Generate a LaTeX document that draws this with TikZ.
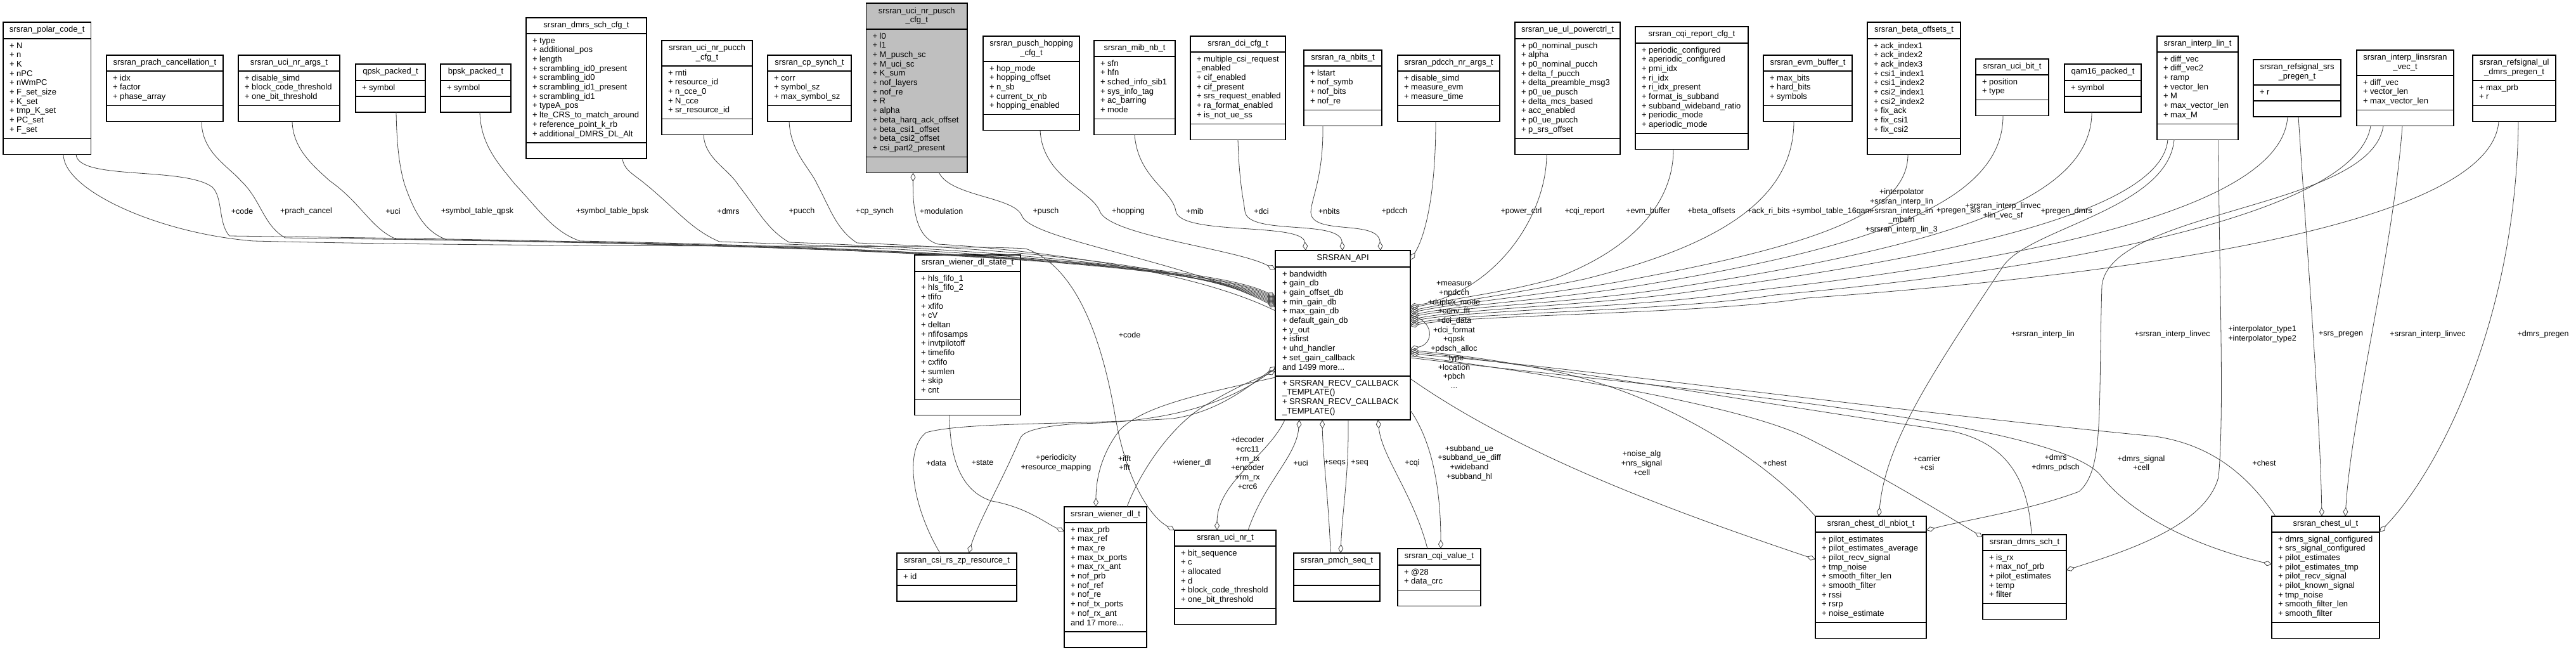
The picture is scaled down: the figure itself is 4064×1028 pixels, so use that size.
\documentclass[tikz,border=0pt]{standalone}
\usepackage{fontspec}
\setmainfont{Liberation Sans}
\usetikzlibrary{arrows.meta,calc}
\definecolor{edgec}{HTML}{404040}
\definecolor{boxc}{HTML}{000000}
\definecolor{grayfill}{HTML}{BFBFBF}
\tikzset{
 umlrect/.style={draw=boxc, line width=1.2pt, fill=white, inner sep=0pt, outer sep=0pt},
 sepline/.style={draw=boxc, line width=1.2pt},
 txt/.style={font=\fontsize{13}{14.7}\selectfont, inner sep=0pt, outer sep=0pt},
 lbl/.style={font=\fontsize{12.5}{14.7}\selectfont, inner sep=0pt, align=center},
 rel/.style={draw=edgec, line width=0.8pt},
 agg/.style={rel, -{Diamond[open, length=14pt, width=8pt]}},
}
% #1 extra style, #2 name, #3 left, #4 top, #5 width, #6 title, #7 title height, #8 items, #9 item lines
\newcommand\umlbox[9][]{%
 \pgfmathsetmacro\ih{#9>0 ? 14.7*#9+10.3 : 25}%
 \pgfmathsetmacro\bh{#7+\ih+25}%
 \node[umlrect,#1, minimum width=#5pt, minimum height=\bh pt, anchor=north west] (#2) at (#3,#4) {};
 \draw[sepline] ([yshift=-#7pt]#2.north west) -- ([yshift=-#7pt]#2.north east);
 \draw[sepline] ([yshift=-#7pt-\ih pt]#2.north west) -- ([yshift=-#7pt-\ih pt]#2.north east);
 \node[txt, anchor=center] (#2-t) at ([yshift=-#7pt/2]#2.north) {\begin{tabular}{@{}c@{}}#6\end{tabular}};
 \ifnum#9>0 \node[txt, anchor=base west] (#2-a) at ([xshift=10pt,yshift=-#7pt-15pt]#2.north west) {\begin{tabular}[t]{@{}l@{}}#8\end{tabular}};\fi
}
\begin{document}
\begin{tikzpicture}[x=1pt,y=-1pt]
\useasboundingbox[fill=white] (0,0) rectangle (4064,1028);
% ---------- top row ----------
\umlbox{polar}{5}{35}{138.5}{srsran\_polar\_code\_t}{26}{+ N\\+ n\\+ K\\+ nPC\\+ nWmPC\\+ F\_set\_size\\+ K\_set\\+ tmp\_K\_set\\+ PC\_set\\+ F\_set}{10}
\umlbox{prach}{168}{87}{184}{srsran\_prach\_cancellation\_t}{25}{+ idx\\+ factor\\+ phase\_array}{3}
\umlbox{uciargs}{376}{87}{160}{srsran\_uci\_nr\_args\_t}{25}{+ disable\_simd\\+ block\_code\_threshold\\+ one\_bit\_threshold}{3}
\umlbox{qpsk}{561}{101}{110}{qpsk\_packed\_t}{26}{+ symbol}{1}
\umlbox{bpsk}{695}{101}{111}{bpsk\_packed\_t}{26}{+ symbol}{1}
\umlbox{dmrscfg}{830}{28}{190}{srsran\_dmrs\_sch\_cfg\_t}{25}{+ type\\+ additional\_pos\\+ length\\+ scrambling\_id0\_present\\+ scrambling\_id0\\+ scrambling\_id1\_present\\+ scrambling\_id1\\+ typeA\_pos\\+ lte\_CRS\_to\_match\_around\\+ reference\_point\_k\_rb\\+ additional\_DMRS\_DL\_Alt}{11}
\umlbox{pucchcfg}{1044}{64}{143}{srsran\_uci\_nr\_pucch\\\_cfg\_t}{40}{+ rnti\\+ resource\_id\\+ n\_cce\_0\\+ N\_cce\\+ sr\_resource\_id}{5}
\umlbox{cpsynch}{1211}{87}{132}{srsran\_cp\_synch\_t}{25}{+ corr\\+ symbol\_sz\\+ max\_symbol\_sz}{3}
\umlbox[fill=grayfill]{gray}{1366.5}{5}{159.5}{srsran\_uci\_nr\_pusch\\\_cfg\_t}{41}{+ l0\\+ l1\\+ M\_pusch\_sc\\+ M\_uci\_sc\\+ K\_sum\\+ nof\_layers\\+ nof\_re\\+ R\\+ alpha\\+ beta\_harq\_ack\_offset\\+ beta\_csi1\_offset\\+ beta\_csi2\_offset\\+ csi\_part2\_present}{13}
\umlbox{hopping}{1551}{57}{152}{srsran\_pusch\_hopping\\\_cfg\_t}{40}{+ hop\_mode\\+ hopping\_offset\\+ n\_sb\\+ current\_tx\_nb\\+ hopping\_enabled}{5}
\umlbox{mib}{1726}{64}{128}{srsran\_mib\_nb\_t}{25}{+ sfn\\+ hfn\\+ sched\_info\_sib1\\+ sys\_info\_tag\\+ ac\_barring\\+ mode}{6}
\umlbox{dci}{1878}{57}{150}{srsran\_dci\_cfg\_t}{25}{+ multiple\_csi\_request\\\_enabled\\+ cif\_enabled\\+ cif\_present\\+ srs\_request\_enabled\\+ ra\_format\_enabled\\+ is\_not\_ue\_ss}{7}
\umlbox{ranbits}{2057}{79}{123}{srsran\_ra\_nbits\_t}{25}{+ lstart\\+ nof\_symb\\+ nof\_bits\\+ nof\_re}{4}
\umlbox{pdcch}{2205}{87}{161}{srsran\_pdcch\_nr\_args\_t}{25}{+ disable\_simd\\+ measure\_evm\\+ measure\_time}{3}
\umlbox{powerctrl}{2390}{35}{166}{srsran\_ue\_ul\_powerctrl\_t}{26}{+ p0\_nominal\_pusch\\+ alpha\\+ p0\_nominal\_pucch\\+ delta\_f\_pucch\\+ delta\_preamble\_msg3\\+ p0\_ue\_pusch\\+ delta\_mcs\_based\\+ acc\_enabled\\+ p0\_ue\_pucch\\+ p\_srs\_offset}{10}
\umlbox{cqirep}{2580}{42}{178}{srsran\_cqi\_report\_cfg\_t}{26}{+ periodic\_configured\\+ aperiodic\_configured\\+ pmi\_idx\\+ ri\_idx\\+ ri\_idx\_present\\+ format\_is\_subband\\+ subband\_wideband\_ratio\\+ periodic\_mode\\+ aperiodic\_mode}{9}
\umlbox{evm}{2782}{87}{140}{srsran\_evm\_buffer\_t}{25}{+ max\_bits\\+ hard\_bits\\+ symbols}{3}
\umlbox{beta}{2946}{35}{147}{srsran\_beta\_offsets\_t}{26}{+ ack\_index1\\+ ack\_index2\\+ ack\_index3\\+ csi1\_index1\\+ csi1\_index2\\+ csi2\_index1\\+ csi2\_index2\\+ fix\_ack\\+ fix\_csi1\\+ fix\_csi2}{10}
\umlbox{ucibit}{3117}{93}{115}{srsran\_uci\_bit\_t}{25}{+ position\\+ type}{2}
\umlbox{qam}{3257}{101}{121}{qam16\_packed\_t}{26}{+ symbol}{1}
\umlbox{interplin}{3403}{57}{128}{srsran\_interp\_lin\_t}{25}{+ diff\_vec\\+ diff\_vec2\\+ ramp\\+ vector\_len\\+ M\\+ max\_vector\_len\\+ max\_M}{7}
\umlbox{srspregen}{3555}{94}{138}{srsran\_refsignal\_srs\\\_pregen\_t}{40}{+ r}{1}
\umlbox{linvec}{3718}{79}{153}{srsran\_interp\_linsrsran\\\_vec\_t}{40}{+ diff\_vec\\+ vector\_len\\+ max\_vector\_len}{3}
\umlbox{dmrspregen}{3901}{87}{131}{srsran\_refsignal\_ul\\\_dmrs\_pregen\_t}{40}{+ max\_prb\\+ r}{2}
% ---------- middle ----------
\umlbox{wds}{1443}{402}{167}{srsran\_wiener\_dl\_state\_t}{26}{+ hls\_fifo\_1\\+ hls\_fifo\_2\\+ tfifo\\+ xfifo\\+ cV\\+ deltan\\+ nfifosamps\\+ invtpilotoff\\+ timefifo\\+ cxfifo\\+ sumlen\\+ skip\\+ cnt}{13}
\node[umlrect, minimum width=213pt, minimum height=267pt, anchor=north west] (api) at (2012,395) {};
\draw[sepline] ([yshift=-26pt]api.north west) -- ([yshift=-26pt]api.north east);
\draw[sepline] ([yshift=-198pt]api.north west) -- ([yshift=-198pt]api.north east);
\node[txt] (api-t) at ([yshift=-13pt]api.north) {\begin{tabular}{@{}c@{}}SRSRAN\_API\end{tabular}};
\node[txt, anchor=base west] (api-a) at ([xshift=11pt,yshift=-41pt]api.north west) {\begin{tabular}[t]{@{}l@{}}+ bandwidth\\+ gain\_db\\+ gain\_offset\_db\\+ min\_gain\_db\\+ max\_gain\_db\\+ default\_gain\_db\\+ y\_out\\+ isfirst\\+ uhd\_handler\\+ set\_gain\_callback\\and 1499 more...\end{tabular}};
\node[txt, anchor=base west] (api-m) at ([xshift=11pt,yshift=-213pt]api.north west) {\begin{tabular}[t]{@{}l@{}}+ SRSRAN\_RECV\_CALLBACK\\\_TEMPLATE()\\+ SRSRAN\_RECV\_CALLBACK\\\_TEMPLATE()\end{tabular}};
% ---------- bottom ----------
\umlbox{csizp}{1415}{872}{189}{srsran\_csi\_rs\_zp\_resource\_t}{26}{+ id}{1}
\umlbox{wdl}{1679}{799}{130}{srsran\_wiener\_dl\_t}{25}{+ max\_prb\\+ max\_ref\\+ max\_re\\+ max\_tx\_ports\\+ max\_rx\_ant\\+ nof\_prb\\+ nof\_ref\\+ nof\_re\\+ nof\_tx\_ports\\+ nof\_rx\_ant\\and 17 more...}{11}
\umlbox{ucinr}{1853}{836}{160}{srsran\_uci\_nr\_t}{25}{+ bit\_sequence\\+ c\\+ allocated\\+ d\\+ block\_code\_threshold\\+ one\_bit\_threshold}{6}
\umlbox{pmch}{2041}{872}{136}{srsran\_pmch\_seq\_t}{26}{}{0}
\umlbox{cqival}{2205}{865}{131}{srsran\_cqi\_value\_t}{26}{+ @28\\+ data\_crc}{2}
\umlbox{chestdl}{2864}{814}{175}{srsran\_chest\_dl\_nbiot\_t}{25}{+ pilot\_estimates\\+ pilot\_estimates\_average\\+ pilot\_recv\_signal\\+ tmp\_noise\\+ smooth\_filter\_len\\+ smooth\_filter\\+ rssi\\+ rsrp\\+ noise\_estimate}{9}
\umlbox{dmrssch}{3128}{843}{132}{srsran\_dmrs\_sch\_t}{25}{+ is\_rx\\+ max\_nof\_prb\\+ pilot\_estimates\\+ temp\\+ filter}{5}
\umlbox{chestul}{3584}{814}{170}{srsran\_chest\_ul\_t}{25}{+ dmrs\_signal\_configured\\+ srs\_signal\_configured\\+ pilot\_estimates\\+ pilot\_estimates\_tmp\\+ pilot\_recv\_signal\\+ pilot\_known\_signal\\+ tmp\_noise\\+ smooth\_filter\_len\\+ smooth\_filter}{9}
% ---------- edges: top-left group to API ----------
\draw[agg] ($(polar.south west)+(115,0)$) .. controls (122,285) and (290,262) .. (335,295) .. controls (352,312) and (344,352) .. (362,372) .. controls (1000,380) and (1870,395) .. ($(api.north west)+(0,73)$);
\draw[agg] ($(prach.south west)+(150,0)$) .. controls (318,240) and (360,262) .. (380,285) .. controls (412,315) and (415,355) .. (450,375) .. controls (1000,382) and (1870,397) .. ($(api.north west)+(0,75)$);
\draw[agg] ($(uciargs.south west)+(85,0)$) .. controls (462,235) and (495,262) .. (520,285) .. controls (570,320) and (585,360) .. (625,377) .. controls (1100,384) and (1870,399) .. ($(api.north west)+(0,77)$);
\draw[agg] ($(qpsk.south west)+(64,0)$) .. controls (626,230) and (630,262) .. (638,290) .. controls (652,330) and (668,365) .. (705,378) .. controls (1100,385) and (1870,401) .. ($(api.north west)+(0,79)$);
\draw[agg] ($(bpsk.south west)+(62,0)$) .. controls (758,230) and (790,262) .. (812,290) .. controls (850,330) and (872,365) .. (915,380) .. controls (1200,386) and (1870,403) .. ($(api.north west)+(0,81)$);
\draw[agg] ($(dmrscfg.south west)+(152,0)$) .. controls (984,268) and (1000,275) .. (1018,290) .. controls (1065,328) and (1090,362) .. (1135,381) .. controls (1300,387) and (1870,405) .. ($(api.north west)+(0,83)$);
\draw[agg] ($(pucchcfg.south west)+(66,0)$) .. controls (1112,250) and (1148,265) .. (1165,292) .. controls (1195,330) and (1210,362) .. (1245,382) .. controls (1400,388) and (1870,407) .. ($(api.north west)+(0,85)$);
\draw[agg] ($(cpsynch.south west)+(34,0)$) .. controls (1247,240) and (1278,265) .. (1290,292) .. controls (1310,330) and (1320,362) .. (1352,383) .. controls (1500,389) and (1870,409) .. ($(api.north west)+(0,87)$);
\draw[agg] ($(gray.south west)+(115,0)$) .. controls (1500,310) and (1600,310) .. (1612,340) .. controls (1625,378) and (1870,411) .. ($(api.north west)+(0,89)$);
\draw[agg] ($(api.north west)+(0,95)$) .. controls (1870,420) and (1600,392) .. (1480,385) .. controls (1445,375) and (1440,330) .. ($(gray.south west)+(74,0)$);
\draw[agg] ($(hopping.south west)+(90,0)$) .. controls (1645,280) and (1722,300) .. (1735,333) .. controls (1750,372) and (1950,392) .. ($(api.north west)+(0,30)$);
\draw[agg] ($(mib.south west)+(64,0)$) .. controls (1795,280) and (1850,300) .. (1855,333) .. controls (1862,372) and (2055,350) .. ($(api.north west)+(48,0)$);
\draw[agg] ($(dci.south west)+(75,0)$) .. controls (1955,290) and (1962,315) .. (1964,333) .. controls (1968,372) and (2115,345) .. ($(api.north west)+(106,0)$);
\draw[agg] ($(ranbits.south west)+(30,0)$) .. controls (2088,280) and (2068,315) .. (2068,335) .. controls (2070,372) and (2175,345) .. ($(api.north west)+(166,0)$);
\draw[agg] ($(pdcch.south west)+(60,0)$) .. controls (2265,300) and (2250,370) .. ($(api.north east)+(0,15)$);
% ---------- edges: top-right group to API ----------
\draw[agg] ($(powerctrl.south west)+(50,0)$) .. controls (2440,340) and (2360,460) .. ($(api.north east)+(0,88)$);
\draw[agg] ($(cqirep.south west)+(60,0)$) .. controls (2640,330) and (2560,400) .. (2450,440) .. controls +(-80,22) and +(80,-18) .. ($(api.north east)+(0,91)$);
\draw[agg] ($(evm.south west)+(48,0)$) .. controls (2830,320) and (2700,390) .. (2500,440) .. controls +(-120,25) and +(90,-18) .. ($(api.north east)+(0,95)$);
\draw[agg] ($(beta.south west)+(64,0)$) .. controls (3010,340) and (2850,390) .. (2550,445) .. controls +(-150,25) and +(90,-18) .. ($(api.north east)+(0,98)$);
\draw[agg] ($(ucibit.south west)+(43,0)$) .. controls (3160,320) and (2950,390) .. (2600,448) .. controls +(-150,25) and +(90,-18) .. ($(api.north east)+(0,102)$);
\draw[agg] ($(qam.south west)+(43,0)$) .. controls (3300,320) and (3050,390) .. (2650,452) .. controls +(-150,25) and +(90,-18) .. ($(api.north east)+(0,105)$);
\draw[agg] ($(interplin.south west)+(17,0)$) .. controls (3410,330) and (3100,400) .. (2700,455) .. controls +(-150,25) and +(90,-18) .. ($(api.north east)+(0,109)$);
\draw[agg] ($(srspregen.south west)+(54,0)$) .. controls (3600,330) and (3200,410) .. (2750,460) .. controls +(-150,25) and +(90,-18) .. ($(api.north east)+(0,112)$);
\draw[agg] ($(linvec.south west)+(22,0)$) .. controls (3720,330) and (3300,420) .. (2800,465) .. controls +(-150,25) and +(90,-18) .. ($(api.north east)+(0,116)$);
\draw[agg] ($(dmrspregen.south west)+(41,0)$) .. controls (3930,350) and (3400,430) .. (2850,470) .. controls +(-150,25) and +(90,-18) .. ($(api.north east)+(0,119)$);
% self loop
\draw[agg] ($(api.north east)+(0,102)$) .. controls +(38,8) and +(38,-8) .. ($(api.north east)+(0,155)$);
% ---------- edges: top-right to bottom-right ----------
\draw[agg] ($(interplin.south west)+(27,0)$) .. controls (3420,330) and (3200,360) .. (3160,420) .. controls (3040,600) and (2975,700) .. ($(chestdl.north west)+(100,0)$);
\draw[agg] ($(linvec.south west)+(42,0)$) .. controls (3740,330) and (3330,330) .. (3316,450) .. controls (3310,650) and (3320,740) .. (3280,775) .. controls (3200,805) and (3100,820) .. ($(chestdl.north east)+(0,22)$);
\draw[agg] ($(interplin.south west)+(97,0)$) .. controls (3500,400) and (3510,650) .. (3500,752) .. controls (3480,830) and (3350,870) .. ($(dmrssch.north east)+(0,56)$);
\draw[agg] ($(srspregen.south west)+(71,0)$) .. controls (3640,400) and (3660,650) .. ($(chestul.north west)+(79,0)$);
\draw[agg] ($(linvec.south west)+(72,0)$) .. controls (3775,400) and (3710,650) .. ($(chestul.north west)+(116,0)$);
\draw[agg] ($(dmrspregen.south west)+(72,0)$) .. controls (3970,500) and (3850,740) .. ($(chestul.north east)+(0,25)$);
% ---------- edges: API to bottom-right ----------
\draw[agg] (chestdl.north west) .. controls (2780,720) and (2620,620) .. (2450,585) .. controls (2350,565) and (2280,558) .. ($(api.north east)+(0,157)$);
\draw[agg] ($(dmrssch.north west)+(77,0)$) .. controls (3200,760) and (3170,700) .. (3080,680) .. controls (2800,640) and (2400,570) .. ($(api.north east)+(0,160)$);
\draw[agg] ($(chestul.north west)+(6,0)$) .. controls (3540,740) and (3480,700) .. (3400,688) .. controls (3000,650) and (2450,575) .. ($(api.north east)+(0,163)$);
\draw[agg] ($(api.north east)+(0,166)$) .. controls (2450,590) and (2750,640) .. (2850,690) .. controls (2950,740) and (3050,800) .. ($(dmrssch.north west)+(0,4)$);
\draw[agg] ($(api.north east)+(0,169)$) .. controls (2600,610) and (3250,660) .. (3316,752) .. controls (3380,830) and (3500,870) .. ($(chestul.north west)+(0,76)$);
\draw[agg] ($(api.north east)+(0,202)$) .. controls (2400,720) and (2650,810) .. ($(chestdl.north west)+(0,68)$);
\draw[agg] ($(api.south east)+(0,-15)$) .. controls (2262,700) and (2273,780) .. ($(cqival.north west)+(68,0)$);
% ---------- edges: API to bottom-left ----------
\draw[agg] ($(csizp.north west)+(68,0)$) .. controls (1440,800) and (1425,710) .. (1461,682) .. controls (1520,665) and (1700,670) .. (1850,660) .. controls (1920,650) and (1970,610) .. ($(api.north west)+(0,183)$);
\draw[agg] ($(api.north west)+(0,186)$) .. controls (1960,620) and (1880,665) .. (1700,668) .. controls (1640,672) and (1615,680) .. (1610,690) .. controls (1580,760) and (1545,820) .. ($(csizp.north west)+(113,0)$);
\draw[agg] ($(api.north west)+(0,200)$) .. controls (1900,620) and (1800,640) .. (1765,680) .. controls (1735,720) and (1729,760) .. ($(wdl.north west)+(50,0)$);
\draw[agg] ($(wdl.north west)+(99,0)$) .. controls (1800,740) and (1850,670) .. (1900,640) .. controls (1950,610) and (1980,598) .. ($(api.north west)+(0,190)$);
\draw[agg] ($(wds.south west)+(55,0)$) .. controls (1498,720) and (1515,775) .. (1565,790) .. controls (1620,800) and (1650,825) .. ($(wdl.north west)+(0,39)$);
\draw[agg] ($(polar.south west)+(95,0)$) .. controls (100,300) and (250,368) .. (400,380) .. controls (900,392) and (1500,385) .. (1618,392) .. controls (1700,420) and (1740,540) .. (1760,660) .. controls (1778,760) and (1815,815) .. (ucinr.north west);
\draw[agg] ($(api.south west)+(15,0)$) .. controls (2000,720) and (1920,760) .. ($(ucinr.north west)+(67,0)$);
\draw[agg] ($(ucinr.north west)+(116,0)$) .. controls (1995,760) and (2045,720) .. ($(api.south west)+(38,0)$);
\draw[agg] ($(pmch.north west)+(58,0)$) .. controls (2097,800) and (2087,720) .. ($(api.south west)+(74,0)$);
\draw[agg] ($(api.south west)+(115,0)$) .. controls (2128,750) and (2118,800) .. ($(pmch.north west)+(74,0)$);
\draw[agg] ($(cqival.north west)+(47,0)$) .. controls (2230,780) and (2180,720) .. ($(api.south west)+(162,0)$);
% ---------- labels ----------
\node[lbl] (L1) at (382,333) {+code};
\node[lbl] (L2) at (483,333) {+prach\_cancel};
\node[lbl] (L3) at (620,333) {+uci};
\node[lbl] (L4) at (753,333) {+symbol\_table\_qpsk};
\node[lbl] (L5) at (966,333) {+symbol\_table\_bpsk};
\node[lbl] (L6) at (1149,333) {+dmrs};
\node[lbl] (L7) at (1265,333) {+pucch};
\node[lbl] (L8) at (1380,333) {+cp\_synch};
\node[lbl] (L9) at (1485,333) {+modulation};
\node[lbl] (L10) at (1650,333) {+pusch};
\node[lbl] (L11) at (1780,333) {+hopping};
\node[lbl] (L12) at (1885,333) {+mib};
\node[lbl] (L13) at (1990,333) {+dci};
\node[lbl] (L14) at (2097,333) {+nbits};
\node[lbl] (L15) at (2200,333) {+pdcch};
\node[lbl] (L16) at (2400,333) {+power\_ctrl};
\node[lbl] (L17) at (2500,333) {+cqi\_report};
\node[lbl] (L18) at (2600,333) {+evm\_buffer};
\node[lbl] (L19) at (2700,333) {+beta\_offsets};
\node[lbl] (L20) at (2790,333) {+ack\_ri\_bits};
\node[lbl] (L21) at (2890,333) {+symbol\_table\_16qam};
\node[lbl] (L22) at (3000,333) {+interpolator\\+srsran\_interp\_lin\\+srsran\_interp\_lin\\\_mbsfn\\+srsran\_interp\_lin\_3};
\node[lbl] (L23) at (3090,333) {+pregen\_srs};
\node[lbl] (L24) at (3160,333) {+srsran\_interp\_linvec\\+lin\_vec\_sf};
\node[lbl] (L25) at (3260,333) {+pregen\_dmrs};
\node[lbl] (L26) at (2294,528) {+measure\\+npdcch\\+duplex\_mode\\+conv\_fft\\+dci\_data\\+dci\_format\\+qpsk\\+pdsch\_alloc\\\_type\\+location\\+pbch\\...};
\node[lbl] (L27) at (1782,528) {+code};
\node[lbl] (L28) at (3223,527) {+srsran\_interp\_lin};
\node[lbl] (L29) at (3427,527) {+srsran\_interp\_linvec};
\node[lbl] (L30) at (3569,527) {+interpolator\_type1\\+interpolator\_type2};
\node[lbl] (L31) at (3693,527) {+srs\_pregen};
\node[lbl] (L32) at (3830,527) {+srsran\_interp\_linvec};
\node[lbl] (L33) at (4012,527) {+dmrs\_pregen};
\node[lbl] (L34) at (1477,730) {+data};
\node[lbl] (L35) at (1550,730) {+state};
\node[lbl] (L36) at (1666,730) {+periodicity\\+resource\_mapping};
\node[lbl] (L37) at (1774,730) {+ifft\\+fft};
\node[lbl] (L38) at (1880,730) {+wiener\_dl};
\node[lbl] (L39) at (1968,730) {+decoder\\+crc11\\+rm\_tx\\+encoder\\+rm\_rx\\+crc6};
\node[lbl] (L40) at (2052,730) {+uci};
\node[lbl] (L41) at (2106,730) {+seqs};
\node[lbl] (L42) at (2145,730) {+seq};
\node[lbl] (L43) at (2228,730) {+cqi};
\node[lbl] (L44) at (2318,730) {+subband\_ue\\+subband\_ue\_diff\\+wideband\\+subband\_hl};
\node[lbl] (L45) at (2590,730) {+noise\_alg\\+nrs\_signal\\+cell};
\node[lbl] (L46) at (2800,730) {+chest};
\node[lbl] (L47) at (3040,730) {+carrier\\+csi};
\node[lbl] (L48) at (3243,730) {+dmrs\\+dmrs\_pdsch};
\node[lbl] (L49) at (3378,730) {+dmrs\_signal\\+cell};
\node[lbl] (L50) at (3572,730) {+chest};
\end{tikzpicture}
\end{document}
